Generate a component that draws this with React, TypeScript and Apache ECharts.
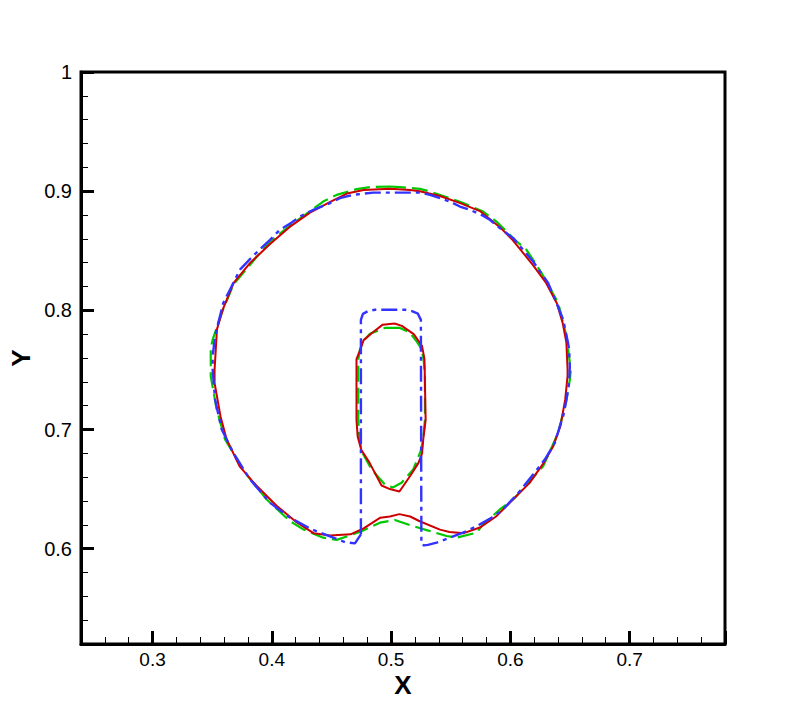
import React, { useEffect, useRef } from "react";
import * as echarts from "echarts";

// Axis ranges
const xRange = [0.24, 0.78];
const yRange = [0.52, 1.0];

// Blue dash-dot contour (disk with slot, single closed curve)
const blueContour: number[][] = [
  [0.4747, 0.612], [0.4747, 0.792], [0.4764, 0.797], [0.4806, 0.7993], [0.4865, 0.8005],
  [0.5116, 0.8005], [0.5175, 0.7993], [0.5225, 0.7972], [0.525, 0.792], [0.5254, 0.6036],
  [0.5275, 0.6028], [0.5309, 0.6032], [0.5382, 0.605], [0.5493, 0.6092], [0.5633, 0.6147],
  [0.5745, 0.6204], [0.5842, 0.626], [0.5926, 0.6315], [0.608, 0.6483], [0.6191, 0.6623],
  [0.6289, 0.6748], [0.6373, 0.6888], [0.6415, 0.7027], [0.6443, 0.7111], [0.6471, 0.7251],
  [0.6493, 0.7391], [0.6499, 0.753], [0.6493, 0.767], [0.6484, 0.7726], [0.6443, 0.7922],
  [0.6387, 0.8062], [0.6317, 0.8229], [0.6191, 0.841], [0.6107, 0.8508], [0.6024, 0.8606],
  [0.5912, 0.869], [0.5828, 0.876], [0.5759, 0.8801], [0.5661, 0.8843], [0.5577, 0.8871],
  [0.5493, 0.8913], [0.541, 0.8941], [0.5326, 0.8969], [0.5242, 0.8988], [0.5074, 0.8988],
  [0.485, 0.8988], [0.4683, 0.8969], [0.4571, 0.8941], [0.4488, 0.89], [0.4348, 0.8843],
  [0.4236, 0.8787], [0.4167, 0.8737], [0.4068, 0.8676], [0.3985, 0.8592], [0.3901, 0.8514],
  [0.3817, 0.843], [0.3733, 0.8341], [0.3649, 0.8173], [0.3593, 0.8062], [0.3551, 0.7894],
  [0.3524, 0.7782], [0.3504, 0.7614], [0.3504, 0.7503], [0.3524, 0.7251], [0.358, 0.7],
  [0.3677, 0.6804], [0.3817, 0.6581], [0.3985, 0.6385], [0.4153, 0.626], [0.4334, 0.6162],
  [0.4515, 0.6092], [0.4613, 0.6055], [0.4697, 0.6044], [0.4747, 0.612],
];

// Red solid contour: outer boundary
const redOuter: number[][] = [
  [0.499, 0.902], [0.516, 0.901], [0.524, 0.9], [0.541, 0.896], [0.558, 0.89],
  [0.575, 0.883], [0.591, 0.87], [0.602, 0.859], [0.619, 0.838], [0.63, 0.823],
  [0.639, 0.806], [0.644, 0.789], [0.647, 0.773], [0.648, 0.75], [0.648, 0.745],
  [0.646, 0.725], [0.642, 0.703], [0.636, 0.686], [0.628, 0.672], [0.616, 0.655],
  [0.602, 0.641], [0.588, 0.627], [0.575, 0.618], [0.561, 0.613], [0.549, 0.614],
  [0.541, 0.616], [0.524, 0.623], [0.516, 0.627], [0.507, 0.629], [0.499, 0.627],
  [0.491, 0.626], [0.477, 0.617], [0.466, 0.612], [0.449, 0.611], [0.435, 0.613],
  [0.421, 0.622], [0.404, 0.636], [0.387, 0.653], [0.373, 0.669], [0.362, 0.692],
  [0.357, 0.711], [0.352, 0.739], [0.352, 0.75], [0.354, 0.784], [0.359, 0.801],
  [0.368, 0.823], [0.382, 0.84], [0.399, 0.856], [0.415, 0.87], [0.432, 0.882],
  [0.449, 0.891], [0.463, 0.898], [0.477, 0.901], [0.499, 0.902],
];

// Red solid contour: inner (slot) loop
const redInner: number[][] = [
  [0.503, 0.789], [0.509, 0.787], [0.519, 0.78], [0.526, 0.77], [0.528, 0.759],
  [0.529, 0.708], [0.527, 0.692], [0.526, 0.68], [0.523, 0.672], [0.516, 0.661],
  [0.507, 0.648], [0.499, 0.65], [0.492, 0.653], [0.482, 0.672], [0.475, 0.683],
  [0.472, 0.694], [0.471, 0.708], [0.471, 0.759], [0.473, 0.764], [0.477, 0.775],
  [0.484, 0.781], [0.493, 0.788], [0.503, 0.789],
];

// Green dashed contour: outer boundary
const greenOuter: number[][] = [
  [0.4991, 0.9039], [0.5074, 0.9034], [0.5242, 0.9019], [0.5326, 0.8997], [0.5493, 0.8941],
  [0.5605, 0.89], [0.5772, 0.8829], [0.5884, 0.8745], [0.6052, 0.8578], [0.6136, 0.8508],
  [0.6262, 0.8313], [0.6401, 0.8062], [0.6471, 0.7782], [0.6499, 0.7559], [0.6507, 0.7503],
  [0.6499, 0.7419], [0.6465, 0.7223], [0.6401, 0.6972], [0.6275, 0.6692], [0.6038, 0.6427],
  [0.5912, 0.6329], [0.5772, 0.6204], [0.5717, 0.6134], [0.5549, 0.6092], [0.5466, 0.6106],
  [0.5298, 0.6156], [0.5186, 0.6189], [0.5032, 0.624], [0.4907, 0.6218], [0.4753, 0.6147],
  [0.4641, 0.6106], [0.4544, 0.6074], [0.4431, 0.6092], [0.4264, 0.6162], [0.4153, 0.6231],
  [0.3957, 0.6413], [0.3775, 0.6637], [0.3608, 0.6916], [0.3538, 0.7167], [0.3488, 0.7446],
  [0.3488, 0.7503], [0.3488, 0.7684], [0.3504, 0.7754], [0.358, 0.7978], [0.3677, 0.8215],
  [0.3901, 0.8481], [0.3985, 0.8578], [0.418, 0.8732], [0.4278, 0.8801], [0.4431, 0.8913],
  [0.4544, 0.8969], [0.4711, 0.9017], [0.4823, 0.9034], [0.4991, 0.9039],
];

// Green dashed contour: inner (slot) loop
const greenInner: number[][] = [
  [0.5007, 0.7852], [0.5074, 0.7852], [0.5158, 0.7813], [0.5214, 0.774], [0.5242, 0.7698],
  [0.5269, 0.7614], [0.5284, 0.7475], [0.5284, 0.7084], [0.5269, 0.6916], [0.5248, 0.6818],
  [0.5186, 0.6665], [0.5088, 0.6553], [0.5015, 0.6514], [0.4948, 0.6539], [0.4837, 0.6665],
  [0.4753, 0.6818], [0.4733, 0.6941], [0.4725, 0.7084], [0.4725, 0.7586], [0.4739, 0.767],
  [0.4767, 0.774], [0.4823, 0.7804], [0.4948, 0.7852], [0.5007, 0.7852],
];

const RED = "#CC0000";
const GREEN = "#00C800";
const BLUE = "#3333FF";

function lineSeries(data: number[][], color: string, type: any, width: number, z: number) {
  return {
    type: "line",
    data,
    showSymbol: false,
    symbol: "none",
    smooth: false,
    z,
    lineStyle: { color, width, type },
    emphasis: { disabled: true },
  };
}

export default function App() {
  const ref = useRef<HTMLDivElement>(null);
  useEffect(() => {
    if (!ref.current) return;
    const chart = echarts.init(ref.current, undefined, { renderer: "svg" });
    const axisCommon = {
      type: "value",
      splitNumber: 5,
      axisLine: { show: true, lineStyle: { color: "#000", width: 3 } },
      axisTick: { show: true, inside: true, length: 13, lineStyle: { color: "#000", width: 3 } },
      minorTick: { show: true, splitNumber: 5, length: 7, lineStyle: { color: "#000", width: 1 } },
      splitLine: { show: false },
      minorSplitLine: { show: false },
      nameLocation: "middle",
      nameMoveOverlap: false,
      nameTextStyle: { fontFamily: "Liberation Sans, Arial, sans-serif", fontWeight: "bold", fontSize: 26, color: "#000" },
    };
    chart.setOption({
      animation: false,
      backgroundColor: "#fff",
      grid: {
        left: 81,
        right: 82,
        top: 72,
        bottom: 73,
        show: true,
        borderColor: "#000",
        borderWidth: 3,
        containLabel: false,
      },
      xAxis: {
        ...axisCommon,
        min: xRange[0],
        max: xRange[1],
        name: "X",
        nameGap: 28,
        axisLabel: {
          showMinLabel: false,
          showMaxLabel: false,
          margin: 6,
          fontFamily: "Liberation Sans, Arial, sans-serif",
          fontSize: 19,
          color: "#000",
        },
      },
      yAxis: {
        ...axisCommon,
        min: yRange[0],
        max: yRange[1],
        name: "Y",
        nameGap: 47,
        nameRotate: 90,
        axisLabel: {
          showMinLabel: false,
          margin: 9,
          fontFamily: "Liberation Sans, Arial, sans-serif",
          fontSize: 20,
          color: "#000",
        },
      },
      series: [
        lineSeries(greenOuter, GREEN, [16, 6], 2.2, 1),
        lineSeries(greenInner, GREEN, [16, 6], 2.2, 1),
        lineSeries(redOuter, RED, "solid", 2, 2),
        lineSeries(redInner, RED, "solid", 2, 2),
        lineSeries(blueContour, BLUE, [16, 5, 4, 5], 2.4, 3),
      ],
    });
    return () => chart.dispose();
  }, []);
  return (
    <div
      ref={ref}
      style={{ position: "fixed", left: 0, top: 0, width: 807, height: 717, background: "#fff" }}
    />
  );
}
